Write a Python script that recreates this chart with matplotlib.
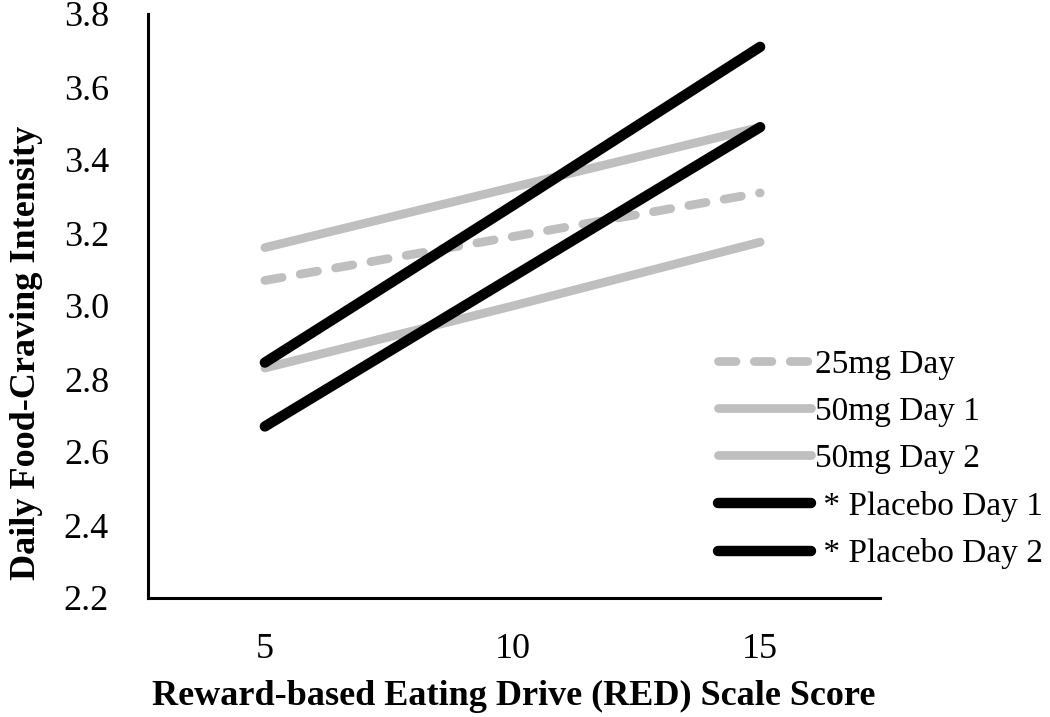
import matplotlib.pyplot as plt

# RED scale score categories
scores = [5, 10, 15]
tick_labels = ["5", "10", "15"]

mg25_day = [3.07, 3.19, 3.31]
mg50_day1 = [3.16, 3.325, 3.49]
mg50_day2 = [2.83, 3.00, 3.175]
placebo_day1 = [2.845, 3.275, 3.71]
placebo_day2 = [2.67, 3.08, 3.49]

yticks = [2.2, 2.4, 2.6, 2.8, 3.0, 3.2, 3.4, 3.6, 3.8]

plt.rcParams['font.family'] = ['Liberation Serif', 'DejaVu Serif']

fig = plt.figure(figsize=(10.5, 7.17), dpi=100)
ax = fig.add_axes([148 / 1050, 1 - 598 / 717, (880 - 148) / 1050, (598 - 14) / 717])

gray = "#BFBFBF"
ax.plot(scores, mg25_day, color=gray, lw=6.3, dashes=(2, 2.1),
        dash_capstyle='round', solid_capstyle='round', label="25mg Day")
ax.plot(scores, mg50_day1, color=gray, lw=6.3, solid_capstyle='round', label="50mg Day 1")
ax.plot(scores, mg50_day2, color=gray, lw=6.3, solid_capstyle='round', label="50mg Day 2")
ax.plot(scores, placebo_day1, color="black", lw=7.5, solid_capstyle='round', label=" * Placebo Day 1")
ax.plot(scores, placebo_day2, color="black", lw=7.5, solid_capstyle='round', label=" * Placebo Day 2")

ax.set_xlim(2.64, 17.42)
ax.set_ylim(2.2, 3.8)
ax.set_xticks(scores)
ax.set_xticklabels(tick_labels)
ax.set_yticks(yticks)
ax.set_yticklabels([f"{v:.1f}" for v in yticks])
ax.tick_params(length=0, labelsize=26)
ax.tick_params(axis='y', pad=28)
ax.tick_params(axis='x', pad=25)

for s in ["top", "right"]:
    ax.spines[s].set_visible(False)
for s in ["left", "bottom"]:
    ax.spines[s].set_linewidth(2.2)

ax.set_xlabel("Reward-based Eating Drive (RED) Scale Score", fontsize=26,
              fontweight='bold', labelpad=10)
ax.set_ylabel("Daily Food-Craving Intensity", fontsize=26, fontweight='bold',
              labelpad=15, y=0.42)

leg = ax.legend(loc='upper left', bbox_to_anchor=(718 / 1050, 1 - 349 / 717),
                bbox_transform=fig.transFigure, frameon=False, fontsize=24,
                handlelength=2.8, handletextpad=0.1, labelspacing=0.5,
                borderpad=0, borderaxespad=0)

fig.savefig("out.png", dpi=100)
